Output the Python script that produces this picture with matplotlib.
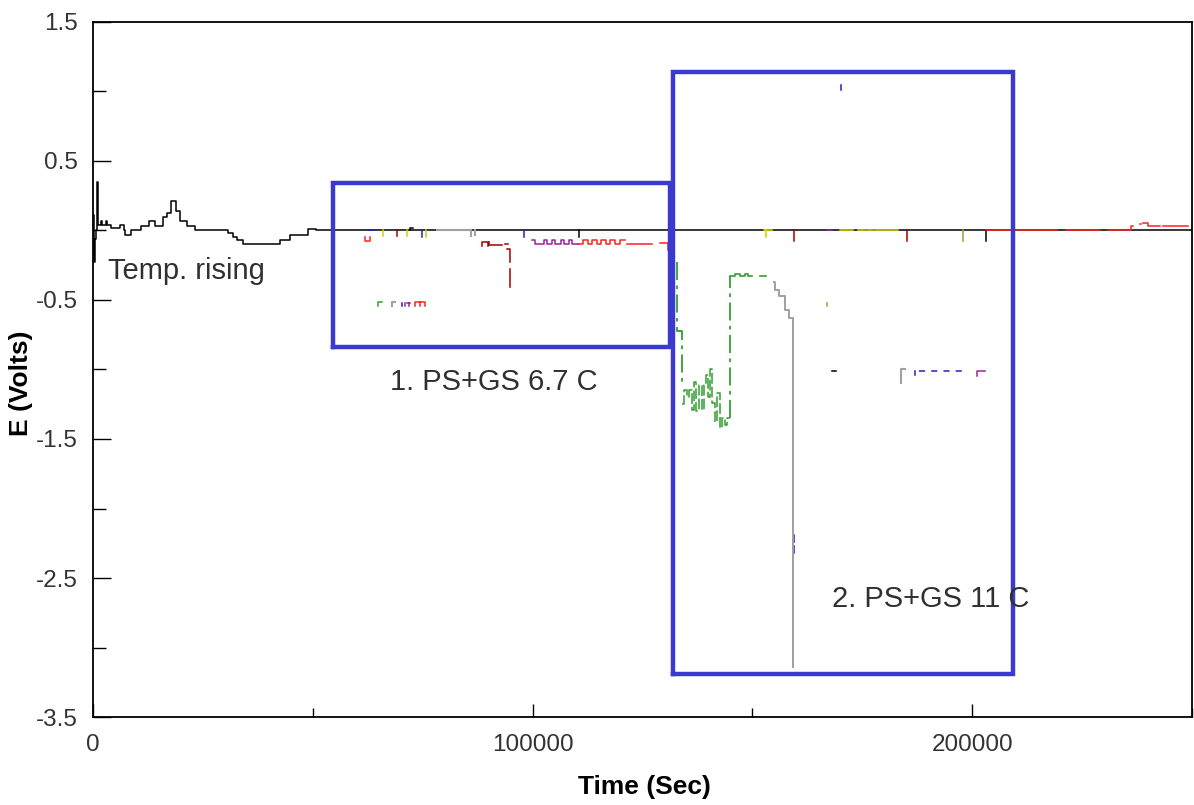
import numpy as np
import matplotlib
matplotlib.use("Agg")
import matplotlib.pyplot as plt
from matplotlib.ticker import MultipleLocator

nan = np.nan

# main reference electrode trace (black, steps)
black_t = [0, 150, 400, 650, 980, 1080, 1900, 2100, 3000, 3200, 4200, 6200, 7100,
           7360, 8570, 10840, 12660, 14030, 15930, 16840, 17820, 18960, 19720,
           21460, 23290, 30720, 31850, 32840, 34130, 42470, 44750, 48920, 50810, 250000]
black_v = [0.11, -0.23, -0.06, 0.0, 0.35, 0.04, 0.07, 0.04, 0.07, 0.04, 0.02, 0.04, 0.0,
           -0.035, 0.0, 0.035, 0.067, 0.035, 0.10, 0.127, 0.21, 0.14, 0.067,
           0.035, 0.005, -0.02, -0.05, -0.07, -0.095, -0.065, -0.03, 0.01, 0.0, 0.0]

# green electrode in the 11 C run: first drop, noisy part, recovery
green_drop_t = [132800, 132900, 133900]
green_drop_v = [-0.23, -0.72, -1.1]
green_noise_t = [133900, 134500, 135100, 135600, 136200, 136700, 137200,
                 137900, 138500, 139000, 139400, 139900, 140400, 140800, 141500, 142000,
                 142700, 143100, 143800, 144200, 144900]
green_noise_v = [-1.25, -1.15, -1.20, -1.15, -1.29, -1.09, -1.30,
                 -1.11, -1.29, -1.11, -1.04, -1.20, -1.00, -1.24, -1.38, -1.17,
                 -1.42, -1.35, -1.40, -1.35, -1.35]
green_rise_t = [144900, 144950]
green_rise_v = [-1.35, -0.33]
green_top_t = [144950, 146100, 147200, 148400, 149000, 149900, 151700, 153100]
green_top_v = [-0.33, -0.31, -0.33, -0.31, -0.33, nan, -0.33, nan]

# gray electrode in the 11 C run (steps)
gray_t = [155000, 155050, 156000, 157400, 158400, 159300, 159350]
gray_v = [-0.37, -0.425, -0.47, -0.57, -0.63, -3.14, nan]

# red trace at the end of the record (steps)
red_t = [203200, 219300, 221400, 229100, 230900, 236200, 236600, 238200, 238500,
         238900, 240000, 242800, 243500, 249100]
red_v = [0.0, nan, 0.0, nan, 0.0, 0.03, nan, 0.045, nan,
         0.055, 0.03, nan, 0.03, nan]

# short broken pieces of the other electrodes (lines, nan = break)
red_bits_t = [61900, 61900, 63000, 63000, nan,
              73300, 73300, 75500, 75500, nan, 74400, 74400, nan,
              110400, 111500, 111500, 112600, 112600, 113600, 113600, 114700, 114700,
              115600, 115600, 116700, 116700, 117600, 117600, 118800, 118800, 119900,
              119900, 121000, nan,
              121500, 127200, nan, 129000, 130800, 130800]
red_bits_v = [-0.045, -0.075, -0.075, -0.045, nan,
              -0.545, -0.515, -0.515, -0.545, nan, -0.515, -0.545, nan,
              -0.10, -0.10, -0.07, -0.07, -0.10, -0.10, -0.07, -0.07, -0.10,
              -0.10, -0.07, -0.07, -0.10, -0.10, -0.07, -0.07, -0.10, -0.10,
              -0.07, -0.07, nan,
              -0.10, -0.10, nan, -0.093, -0.093, -0.14]

darkred_t = [69200, 69200, nan,
             88500, 88500, 89900, 89900, nan, 90100, 90100, 93100, nan,
             93700, 94500, nan, 94200, 94900, 94900, nan, 94900, 94900, nan,
             159500, 159500, nan, 185200, 185200]
darkred_v = [0.0, -0.04, nan,
             -0.115, -0.08, -0.08, -0.115, nan, -0.08, -0.105, -0.105, nan,
             -0.095, -0.095, nan, -0.13, -0.13, -0.23, nan, -0.28, -0.41, nan,
             0.0, -0.077, nan, 0.0, -0.077]

blue_t = [62800, 63700, nan, 74900, 74900, nan, 98100, 98100, nan,
          70300, 70300, nan, 170100, 170100, nan,
          159400, 159400, nan, 159400, 159400, nan, 187000, 187000]
blue_v = [0.0, 0.0, nan, 0.0, -0.05, nan, 0.0, -0.045, nan,
          -0.52, -0.545, nan, 1.01, 1.05, nan,
          -2.19, -2.24, nan, -2.27, -2.32, nan, -1.01, -1.04]
blue_dash_t = [187800, 197700]
blue_dash_v = [-1.01, -1.01]

purple_t = [99900, 100600, 100600, 102500, 102500, 103200, 103200, 104500, 104500,
            105200, 105200, 106400, 106400, 107100, 107100, 108300, 108300, 109000,
            109000, 110400, nan,
            71000, 71000, nan, 71500, 72100, nan, 71800, 71800, nan,
            167000, 168100, nan, 201100, 201100, 203000]
purple_v = [-0.07, -0.07, -0.10, -0.10, -0.07, -0.07, -0.10, -0.10, -0.07,
            -0.07, -0.10, -0.10, -0.07, -0.07, -0.10, -0.10, -0.07, -0.07,
            -0.10, -0.10, nan,
            -0.52, -0.545, nan, -0.52, -0.52, nan, -0.52, -0.545, nan,
            0.0, 0.0, nan, -1.05, -1.01, -1.01]

yellow_t = [66000, 66000, nan, 71400, 71400, nan, 75800, 75800, nan,
            152700, 154500, nan, 153100, 153100, nan,
            170000, 172900, nan, 174100, 175700, nan, 176100, 177500, nan, 177900, 183200]
yellow_v = [0.0, -0.04, nan, 0.0, -0.04, nan, 0.0, -0.05, nan,
            0.0, 0.0, nan, 0.0, -0.045, nan,
            0.0, 0.0, nan, 0.0, 0.0, nan, 0.0, 0.0, nan, 0.0, 0.0]

olive_t = [198000, 198000, nan, 167000, 167000]
olive_v = [0.0, -0.077, nan, -0.52, -0.54]

gray_bits_t = [78300, 85800, nan, 86000, 86000, nan, 87000, 87000, nan,
               68000, 68000, 68700, nan, 184800, 183800, 183800]
gray_bits_v = [0.007, 0.007, nan, 0.0, -0.04, nan, 0.0, -0.03, nan,
               -0.545, -0.515, -0.515, nan, -1.0, -1.0, -1.1]

green_bits_t = [64800, 64800, 65800]
green_bits_v = [-0.545, -0.515, -0.515]

black_bits_t = [72100, 72100, 72800, nan, 110600, 110600, nan, 203200, 203200, nan,
                168100, 169100]
black_bits_v = [0.0, 0.015, 0.015, nan, 0.0, -0.045, nan, 0.0, -0.077, nan,
                -1.01, -1.01]

# highlighted test periods: (t0, t1, E0, E1)
boxes = [(54600, 131300, -0.835, 0.345), (132000, 209300, -3.19, 1.137)]
notes = [(3400, -0.295, "Temp. rising"), (67600, -1.09, "1. PS+GS 6.7 C"),
         (168100, -2.65, "2. PS+GS 11 C")]

plt.rcParams['font.family'] = ['Liberation Sans', 'DejaVu Sans']

fig = plt.figure(figsize=(11.94, 8.05), dpi=100)
ax = fig.add_axes([0.0779, 0.1093, 0.9204, 0.8634])

lw = 1.1
green = '#30a030'
ax.plot(black_t, black_v, color='black', lw=lw, drawstyle='steps-post')
ax.plot(black_bits_t, black_bits_v, color='black', lw=lw)
ax.plot(red_t, red_v, color='#ff2020', lw=lw, drawstyle='steps-post')
ax.plot(red_bits_t, red_bits_v, color='#ff2020', lw=lw)
ax.plot(darkred_t, darkred_v, color='#a00000', lw=lw)
ax.plot(blue_t, blue_v, color='#2020c0', lw=lw)
ax.plot(blue_dash_t, blue_dash_v, color='#2020c0', lw=lw, dashes=(4, 4))
ax.plot(purple_t, purple_v, color='#a020a0', lw=lw)
ax.plot(yellow_t, yellow_v, color='#d0d000', lw=lw)
ax.plot(olive_t, olive_v, color='#a0a030', lw=lw)
ax.plot(gray_bits_t, gray_bits_v, color='#a0a0a0', lw=1.5)
ax.plot(gray_t, gray_v, color='#a0a0a0', lw=1.4, drawstyle='steps-post')
ax.plot(green_bits_t, green_bits_v, color=green, lw=lw)
ax.plot(green_drop_t, green_drop_v, color=green, lw=1.3, drawstyle='steps-post',
        dashes=(10, 3, 2, 3))
ax.plot(green_noise_t, green_noise_v, color=green, lw=1.1, drawstyle='steps-post',
        dashes=(7, 2))
ax.plot(green_rise_t, green_rise_v, color=green, lw=1.3, drawstyle='steps-post',
        dashes=(10, 3, 2, 3))
ax.plot(green_top_t, green_top_v, color=green, lw=1.2, drawstyle='steps-post')

for t0, t1, e0, e1 in boxes:
    ax.plot([t0, t1, t1, t0, t0], [e0, e0, e1, e1, e0], color='#3a3ad0', lw=3.2,
            solid_joinstyle='miter')

for x, y, s in notes:
    ax.text(x, y, s, fontsize=21, color='#303030', ha='left', va='center')

ax.set_xlim(0, 250000)
ax.set_ylim(-3.5, 1.5)
ax.xaxis.set_major_locator(MultipleLocator(100000))
ax.xaxis.set_minor_locator(MultipleLocator(50000))
ax.yaxis.set_major_locator(MultipleLocator(1.0, offset=0.5))
ax.yaxis.set_minor_locator(MultipleLocator(0.5))
ax.tick_params(axis='both', which='both', direction='in', colors='black',
               labelcolor='#333333', labelsize=17.5, width=1)
ax.tick_params(axis='y', which='major', length=13, pad=11)
ax.tick_params(axis='y', which='minor', length=9.4)
ax.tick_params(axis='x', which='major', length=9.4, pad=12)
ax.tick_params(axis='x', which='minor', length=6.5)
ax.yaxis.set_major_formatter(plt.FuncFormatter(lambda v, p: f"{v:g}"))
ax.xaxis.set_major_formatter(plt.FuncFormatter(lambda v, p: f"{int(v)}"))
for sp in ax.spines.values():
    sp.set_linewidth(1.3)

ax.set_xlabel("Time (Sec)", fontsize=19, fontweight='bold', va='top')
ax.set_ylabel("E (Volts)", fontsize=19, fontweight='bold')
ax.xaxis.set_label_coords(0.502, -0.083)
ax.yaxis.set_label_coords(-0.055, 0.48)

fig.savefig("out.png", dpi=100)
